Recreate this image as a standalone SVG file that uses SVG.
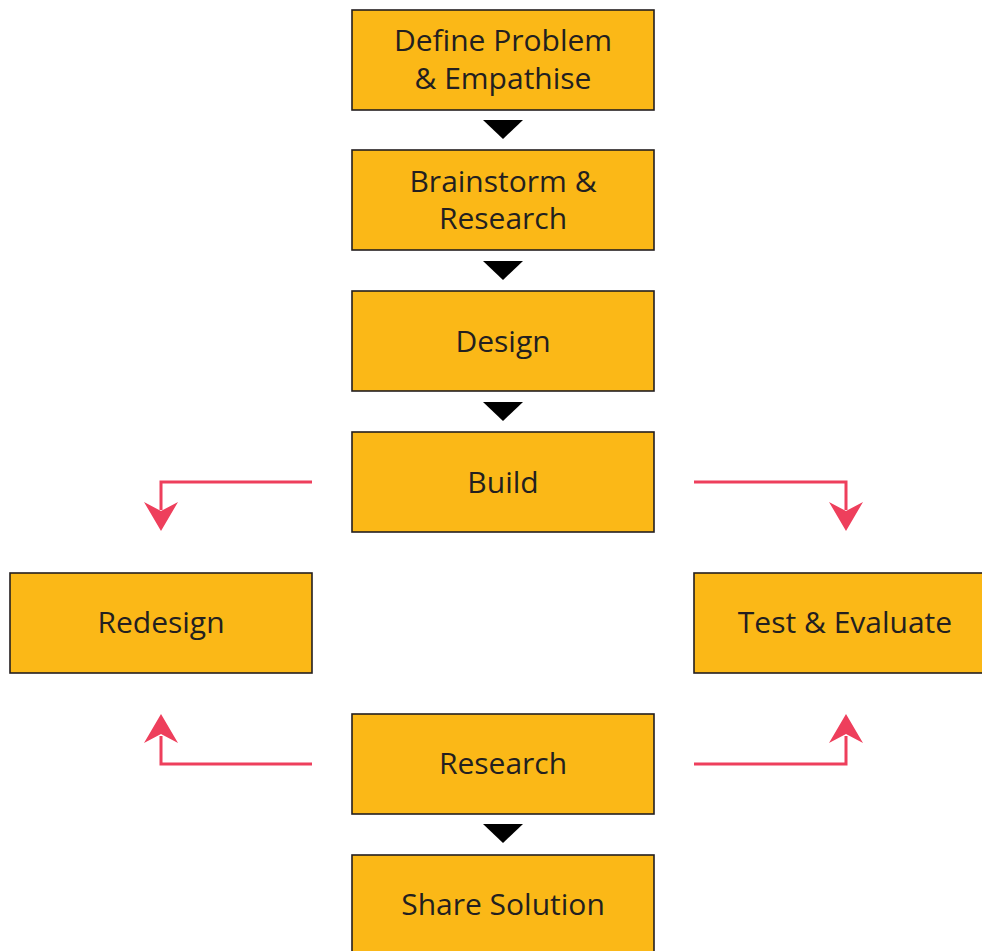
<svg xmlns="http://www.w3.org/2000/svg" width="982" height="951" viewBox="0 0 982 951">
<style>
.box{fill:#FBB817;stroke:#231F20;stroke-width:1.6}
.t{font-family:"Open Sans","DejaVu Sans",sans-serif;font-size:30px;fill:#231F20;text-anchor:middle}
.tri{fill:#000}
.red{fill:none;stroke:#EE3F5C;stroke-width:3}
.head{fill:#EE3F5C}
</style>
<rect width="982" height="951" fill="#fff"/>
<g id="define"><rect class="box" x="352" y="10" width="302" height="100"/><text class="t" x="503" y="51">Define Problem</text><text class="t" x="503" y="89">&amp; Empathise</text></g>
<g id="brainstorm"><rect class="box" x="352" y="150" width="302" height="100"/><text class="t" x="503" y="192">Brainstorm &amp;</text><text class="t" x="503" y="229">Research</text></g>
<g id="design"><rect class="box" x="352" y="291" width="302" height="100"/><text class="t" x="503" y="352">Design</text></g>
<g id="build"><rect class="box" x="352" y="432" width="302" height="100"/><text class="t" x="503" y="493">Build</text></g>
<g id="redesign"><rect class="box" x="10" y="573" width="302" height="100"/><text class="t" x="161" y="633">Redesign</text></g>
<g id="test"><rect class="box" x="694" y="573" width="300" height="100"/><text class="t" x="845" y="633">Test &amp; Evaluate</text></g>
<g id="research"><rect class="box" x="352" y="714" width="302" height="100"/><text class="t" x="503" y="774">Research</text></g>
<g id="share"><rect class="box" x="352" y="855" width="302" height="110"/><text class="t" x="503" y="915">Share Solution</text></g>
<g id="connectors">
<polygon class="tri" points="483,120 523,120 503,139"/>
<polygon class="tri" points="483,261 523,261 503,280"/>
<polygon class="tri" points="483,402 523,402 503,421"/>
<polygon class="tri" points="483,824 523,824 503,843"/>
<polyline class="red" points="312,482 161,482 161,510"/>
<polygon class="head" points="144,502 161,511 178,502 161,531"/>
<polyline class="red" points="694,482 846,482 846,510"/>
<polygon class="head" points="829,502 846,511 863,502 846,531"/>
<polyline class="red" points="312,764 161,764 161,736"/>
<polygon class="head" points="144,743 161,734 178,743 161,714"/>
<polyline class="red" points="694,764 846,764 846,736"/>
<polygon class="head" points="829,743 846,734 863,743 846,714"/>
</g>
</svg>
